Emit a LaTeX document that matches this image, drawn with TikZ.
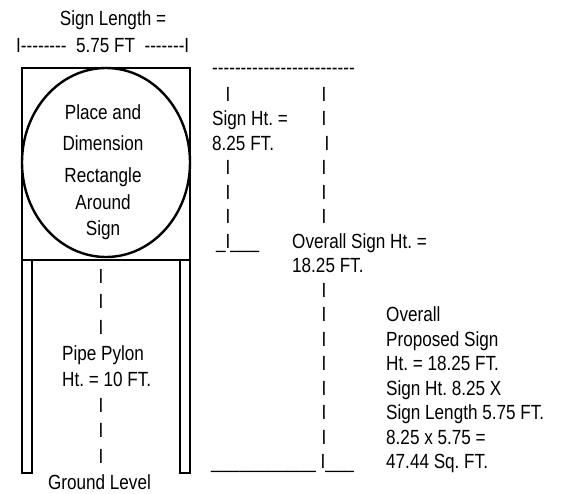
\documentclass[tikz,border=0pt]{standalone}
\usepackage{fontspec}
\newfontfamily\signfont{Liberation Sans}[FakeStretch=0.835]
\frenchspacing
\tikzset{
  lbl/.style={font=\fontsize{20.5}{24}\signfont, inner sep=0pt, anchor=base west},
  bar/.style={font=\fontsize{20.5}{24}\signfont, inner sep=0pt, anchor=base},
}
\begin{document}
\begin{tikzpicture}[x=1pt,y=-1pt]
            \useasboundingbox (0,0) rectangle (564,493);
            % sign board and pipes
            \draw[line width=1.1pt] (22,68) rectangle (190,260);
            \draw[line width=2.4pt] (106,162.5) ellipse [x radius=84, y radius=94.5];
            \draw[line width=1.1pt] (22,260) rectangle (32,473);
            \draw[line width=1.1pt] (180,260) rectangle (190,473);

            \node[bar] (signlen) at (113,25) {Sign Length =};
            \node[lbl] (signlenval) at (16,52) {I--------\ \ 5.75 FT\ \ -------I};
            \foreach \t/\y [count=\i] in {Place and/119,Dimension/150,Rectangle/182,Around/209,Sign/235}
                \node[bar] (signtxt\i) at (103,\y) {\t};

            % pylon height
            \foreach \k in {0,1,2,5,6,7} \node[bar] (pylonbar\k) at (101,283+25.8*\k) {I};
            \node[lbl] (pylon) at (62,360.4) {Pipe Pylon};
            \node[lbl] (pylonht) at (62,386.2) {Ht. = 10 FT.};
            \node[bar] (ground) at (99.5,489.4) {Ground Level};

            % sign height and overall height
            \node[lbl] (topdash) at (212,74) {-------------------------};
            \foreach \k in {0,3,4,5} \node[bar] (lbar\k) at (228,101+24.5*\k) {I};
            \foreach \k in {0,1,3,4,5,8,9,10,11,12,13,14} \node[bar] (rbar\k) at (324,101+24.5*\k) {I};
            \node[bar] (rbar2) at (327,150) {I};
            \node[lbl] (signht) at (212,125.5) {Sign Ht. =};
            \node[lbl] (signhtval) at (212,150) {8.25 FT.};
            \node[lbl] (signhtend) at (216,248) {\_I\_\_\_};
            \node[lbl] (overall) at (292,248) {Overall Sign Ht. =};
            \node[lbl] (overallval) at (292,272.5) {18.25 FT.};
            \node[lbl] (groundline) at (211,468.5) {\_\_\_\_\_\_\_\_\_\_\_ I\_\_\_};

            % totals
            \foreach \t [count=\k from 9] in {Overall,Proposed Sign,Ht. = 18.25 FT.,Sign Ht. 8.25 X,Sign Length 5.75 FT.,8.25 x 5.75 =,47.44 Sq. FT.}
                \node[lbl] (note\k) at (386,101+24.5*\k) {\t};
        \end{tikzpicture}
\end{document}
